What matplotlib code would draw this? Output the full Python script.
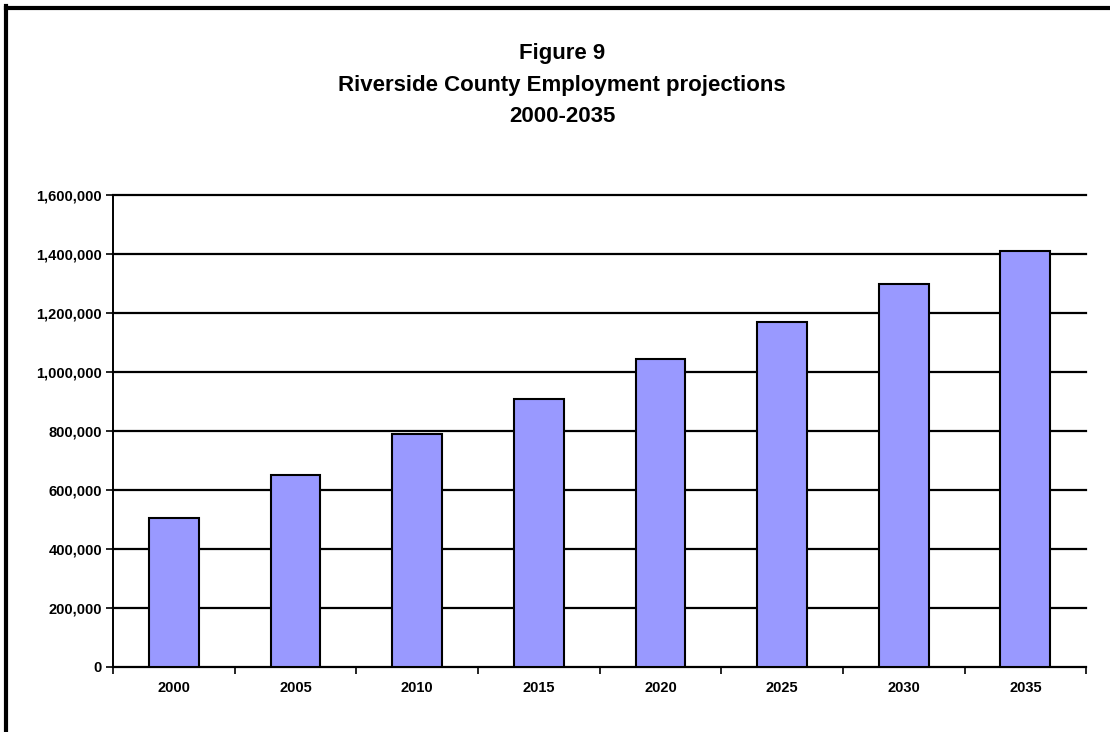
import matplotlib.pyplot as plt
from matplotlib.lines import Line2D
from matplotlib.ticker import FuncFormatter, FixedLocator

plt.rcParams['font.family'] = ['Liberation Sans', 'DejaVu Sans']

years = ['2000', '2005', '2010', '2015', '2020', '2025', '2030', '2035']
employment = [503000, 651000, 788000, 909000, 1045000, 1168000, 1298000, 1411000]
yticks = [0, 200000, 400000, 600000, 800000, 1000000, 1200000, 1400000, 1600000]

fig = plt.figure(figsize=(11.1, 7.32), dpi=100)
ax = fig.add_axes([0.1018, 0.0892, 0.8768, 0.6444])

x = range(len(years))
ax.bar(x, employment, width=0.41, color='#9999FF', edgecolor='black',
       linewidth=1.5, zorder=3)

ax.set_xlim(-0.5, len(years) - 0.5)
ax.set_ylim(0, 1600000)
ax.yaxis.set_major_locator(FixedLocator(yticks))
ax.yaxis.set_major_formatter(FuncFormatter(lambda v, p: f'{int(v):,}'))
ax.grid(axis='y', color='black', linewidth=1.6, zorder=1)
for gl in ax.get_ygridlines():
    gl.set_clip_on(False)

# ticks sit between categories, labels in the middle
ax.set_xticks([i + 0.5 for i in range(-1, len(years))])
ax.set_xticklabels([])
ax.set_xticks(list(x), minor=True)
ax.set_xticklabels(years, minor=True)
ax.tick_params(axis='x', which='major', length=5, width=1.2, direction='out')
ax.tick_params(axis='x', which='minor', length=0, pad=10)
ax.tick_params(axis='y', length=5, width=1.2, direction='out', pad=3)
for lab in ax.get_xticklabels(minor=True) + ax.get_yticklabels():
    lab.set_fontweight('bold')
    lab.set_fontsize(10.5)

for side in ['top', 'right']:
    ax.spines[side].set_visible(False)
ax.spines['left'].set_linewidth(1.4)
ax.spines['bottom'].set_linewidth(1.4)

tx = 562 / 1110
fig.text(tx, 1 - 53 / 732, 'Figure 9', ha='center', va='center',
         fontsize=16, fontweight='bold')
fig.text(tx, 1 - 85 / 732, 'Riverside County Employment projections',
         ha='center', va='center', fontsize=16, fontweight='bold')
fig.text(tx, 1 - 117 / 732, '2000-2035', ha='center', va='center',
         fontsize=16, fontweight='bold')

# outer frame, only top and left edges
fig.add_artist(Line2D([6 / 1110, 1], [1 - 8 / 732, 1 - 8 / 732],
                      color='black', linewidth=3, transform=fig.transFigure))
fig.add_artist(Line2D([6 / 1110, 6 / 1110], [0, 1 - 6 / 732],
                      color='black', linewidth=3, transform=fig.transFigure))

fig.savefig('out.png', dpi=100)
